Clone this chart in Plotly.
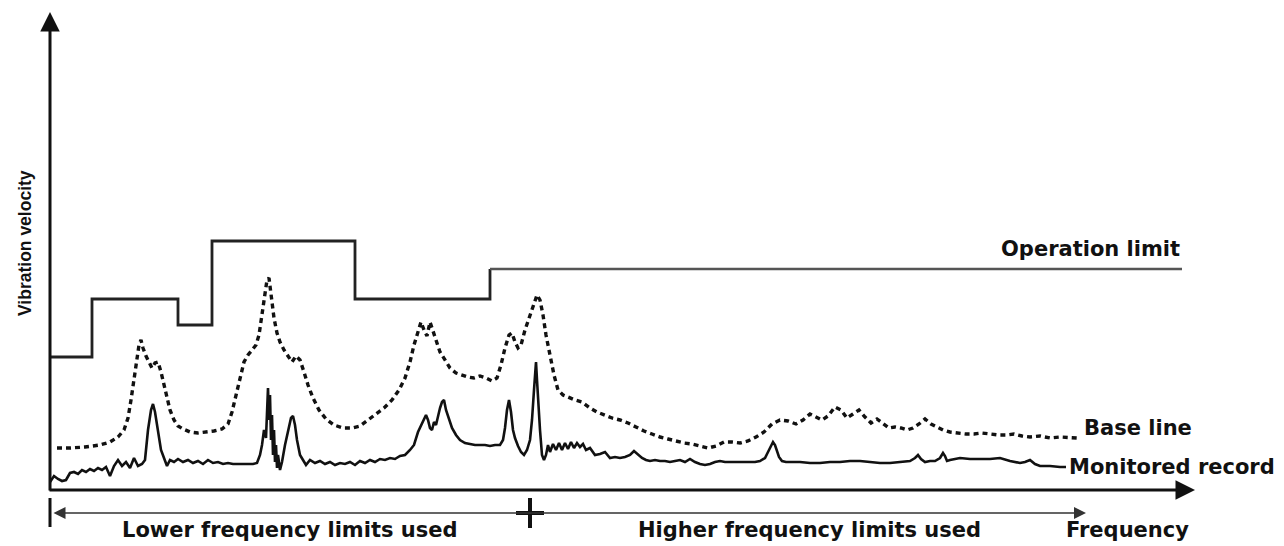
import plotly.graph_objects as go

# ---------------- data (arbitrary frequency / velocity units) ----------------
limit_freq = [0, 42, 128, 162, 305, 440, 1132]
limit_vel = [133, 191, 165, 249, 191, 221, 221]

base_freq = [7, 20, 35, 50, 60, 68, 74, 78, 81, 84, 87, 89, 91, 93, 96, 99, 102, 105, 108, 111, 114, 117, 120, 124,
             128, 133, 140, 148, 156, 164, 172, 178, 182, 186, 190, 194, 198, 202, 206, 209, 212, 215, 217, 219, 221,
             224, 227, 230, 234, 238, 242, 246, 250, 254, 258, 263, 269, 276, 284, 293, 302, 310, 318, 326, 334, 342,
             349, 355, 360, 364, 368, 371, 374, 377, 380, 383, 386, 390, 395, 400, 406, 412, 418, 424, 430, 436, 442,
             447, 451, 455, 459, 462, 465, 468, 471, 475, 479, 483, 487, 490, 493, 496, 500, 504, 508, 513, 518, 525,
             532, 540, 547, 555, 562, 570, 578, 586, 594, 602, 610, 618, 626, 634, 642, 650, 658, 666, 674, 682, 690,
             698, 706, 714, 722, 730, 738, 746, 753, 760, 766, 772, 778, 785, 791, 797, 803, 809, 815, 821, 827, 833,
             839, 845, 851, 857, 863, 869, 875, 881, 887, 893, 900, 908, 916, 924, 932, 940, 948, 956, 964, 972, 980,
             990, 1000, 1010, 1020, 1027]
base_vel = [42, 42, 43, 45, 48, 53, 60, 72, 90, 110, 132, 145, 150, 142, 134, 128, 122, 127, 128, 118, 105, 92, 80, 70,
            64, 61, 58, 57, 58, 59, 61, 66, 78, 95, 112, 128, 135, 140, 145, 155, 175, 200, 210, 212, 195,
            172, 157, 148, 140, 134, 128, 134, 130, 118, 105, 92, 80, 71, 65, 62, 62, 64, 70, 76, 82, 90,
            100, 112, 128, 145, 160, 168, 160, 154, 168, 160, 150, 138, 130, 122, 117, 115, 113, 112, 114, 112, 109,
            112, 125, 142, 155, 157, 148, 142, 145, 160, 172, 185, 195, 190, 175, 155, 135, 115, 100, 95, 93, 90,
            88, 82, 78, 75, 72, 70, 67, 63, 59, 56, 53, 51, 49, 47, 46, 44, 42, 44, 48, 48, 47,
            49, 53, 58, 66, 70, 69, 66, 70, 76, 73, 70, 74, 83, 80, 72, 76, 80, 73, 67, 71, 66,
            62, 63, 62, 60, 62, 66, 71, 66, 63, 60, 58, 57, 56, 56, 57, 56, 55, 55, 56, 54, 53,
            54, 52, 53, 52, 52]

mon_freq = [0, 4, 8, 12, 16, 20, 24, 28, 32, 36, 40, 44, 48, 52, 56, 60, 64, 68, 72, 76, 80, 84, 88, 92, 95, 98, 101,
            103, 105, 108, 111, 114, 117, 120, 124, 128, 133, 138, 143, 148, 153, 158, 163, 168, 173, 178, 183, 188,
            193, 198, 203, 207, 210, 212, 214, 216, 218, 219, 220, 221, 222, 223, 224, 225, 226, 227, 228, 230, 232,
            235, 238, 241, 243, 245, 247, 250, 253, 256, 260, 265, 270, 275, 280, 285, 290, 295, 300, 305, 310, 315,
            320, 325, 330, 335, 340, 345, 350, 355, 360, 364, 368, 371, 374, 376, 378, 380, 382, 384, 386, 388, 390,
            392, 394, 396, 399, 402, 406, 410, 415, 420, 425, 430, 435, 440, 445, 450, 453, 455, 457, 459, 461, 463,
            465, 468, 471, 474, 477, 480, 482, 484, 485, 486, 487, 488, 490, 492, 494, 496, 498, 500, 503, 506, 509,
            512, 515, 518, 521, 524, 527, 530, 533, 536, 540, 545, 550, 555, 560, 565, 570, 575, 580, 584, 588, 592,
            596, 600, 605, 610, 615, 620, 625, 630, 635, 640, 645, 650, 655, 660, 665, 670, 675, 680, 685, 690, 695,
            700, 705, 710, 715, 718, 721, 723, 725, 727, 729, 732, 736, 740, 745, 750, 760, 770, 780, 790, 800, 810,
            820, 830, 840, 850, 855, 860, 865, 868, 871, 875, 880, 885, 890, 893, 895, 897, 900, 905, 910, 920, 930,
            940, 950, 960, 970, 975, 980, 985, 990, 1000, 1010, 1016]
mon_vel = [8, 14, 11, 9, 10, 17, 18, 16, 20, 18, 21, 19, 22, 20, 23, 14, 24, 30, 24, 28, 22, 32, 24, 26, 30, 60, 80,
           86, 78, 58, 40, 32, 24, 30, 28, 31, 28, 30, 27, 29, 26, 30, 27, 28, 26, 27, 26, 26,
           26, 26, 26, 27, 35, 45, 60, 52, 102, 70, 95, 50, 75, 35, 60, 28, 45, 22, 35, 20, 28,
           45, 60, 72, 74, 65, 50, 35, 30, 25, 30, 27, 29, 26, 28, 25, 27, 26, 28, 25, 29, 27,
           30, 28, 31, 30, 32, 31, 34, 35, 40, 45, 58, 65, 72, 75, 70, 62, 60, 68, 65, 75, 82,
           88, 90, 80, 70, 62, 55, 50, 47, 46, 45, 45, 45, 44, 45, 45, 50, 62, 80, 90, 78, 60,
           52, 44, 38, 35, 40, 50, 70, 100, 120, 128, 110, 90, 60, 35, 30, 35, 45, 38, 46, 40, 47,
           40, 47, 41, 48, 42, 47, 43, 46, 40, 42, 35, 36, 38, 32, 33, 32, 33, 35, 39, 35, 32,
           30, 29, 30, 29, 29, 28, 29, 30, 28, 31, 28, 26, 25, 26, 28, 29, 28, 28, 28, 28, 28,
           28, 28, 29, 32, 38, 45, 48, 45, 38, 33, 29, 28, 28, 28, 28, 27, 27, 28, 28, 29, 29,
           28, 27, 27, 28, 28, 29, 32, 35, 31, 28, 29, 29, 32, 37, 34, 29, 30, 31, 32, 31, 31,
           31, 32, 29, 27, 28, 30, 26, 24, 24, 23, 23]

range_split = 480  # boundary between lower and higher frequency limits

# ---------------- figure ----------------
fig = go.Figure()

fig.add_trace(go.Scatter(x=limit_freq[:6], y=limit_vel[:6], mode="lines", line_shape="hv",
                         line=dict(color="#222222", width=2.8), hoverinfo="skip"))
fig.add_trace(go.Scatter(x=limit_freq[5:], y=limit_vel[5:], mode="lines", line_shape="hv",
                         line=dict(color="#555555", width=2.4), hoverinfo="skip"))
fig.add_trace(go.Scatter(x=base_freq, y=base_vel, mode="lines",
                         line=dict(color="#111111", width=3.4, dash="5px,4px"), hoverinfo="skip"))
fig.add_trace(go.Scatter(x=mon_freq, y=mon_vel, mode="lines",
                         line=dict(color="#111111", width=2.6), hoverinfo="skip"))

ann = []
# axes with arrows
ann.append(dict(x=1145, y=0, ax=-2, ay=0, xref="x", yref="y", axref="x", ayref="y", text="",
                showarrow=True, arrowhead=2, arrowsize=1.3, arrowwidth=3, arrowcolor="#111111"))
ann.append(dict(x=0, y=478, ax=0, ay=-2, xref="x", yref="y", axref="x", ayref="y", text="",
                showarrow=True, arrowhead=2, arrowsize=1.3, arrowwidth=3, arrowcolor="#111111"))
# frequency range line
ann.append(dict(x=1036, y=-23, ax=2, ay=-23, xref="x", yref="y", axref="x", ayref="y", text="",
                showarrow=True, arrowhead=2, startarrowhead=2, arrowside="end+start",
                arrowsize=1.6, startarrowsize=1.6, arrowwidth=1.5, arrowcolor="#333333"))

bold = dict(family="DejaVu Sans", size=21, color="#111111")
def label(txt, x, y, xanchor="center", font=bold):
    ann.append(dict(x=x, y=y, xref="x", yref="y", text="<b>%s</b>" % txt, showarrow=False,
                    xanchor=xanchor, yanchor="middle", font=font))

label("Operation limit", 1040, 241)
label("Base line", 1032, 62, xanchor="left")
label("Monitored record", 1017, 23, xanchor="left")
label("Frequency", 1077, -40)
label("Lower frequency limits used", 240, -40)
label("Higher frequency limits used", 759, -40)
ann.append(dict(x=-25, y=247, xref="x", yref="y", text="Vibration velocity", showarrow=False,
                textangle=-90,
                font=dict(family="Liberation Sans Narrow, Liberation Sans", size=17.5, weight="bold",
                          color="#111111")))

shapes = [
    dict(type="line", x0=0, x1=0, y0=-8, y1=-37, xref="x", yref="y", line=dict(color="#111111", width=3)),
    dict(type="line", x0=range_split, x1=range_split, y0=-8, y1=-38, xref="x", yref="y",
         line=dict(color="#111111", width=4)),
    dict(type="line", x0=range_split - 14, x1=range_split + 14, y0=-23, y1=-23, xref="x", yref="y",
         line=dict(color="#111111", width=4)),
]

fig.update_layout(
    width=1276, height=538, margin=dict(l=0, r=0, t=0, b=0),
    paper_bgcolor="white", plot_bgcolor="white", showlegend=False,
    xaxis=dict(range=[-42, 1234], visible=False, fixedrange=True),
    yaxis=dict(range=[-56, 482], visible=False, fixedrange=True),
    annotations=ann, shapes=shapes,
)

fig.write_html("out.html")
